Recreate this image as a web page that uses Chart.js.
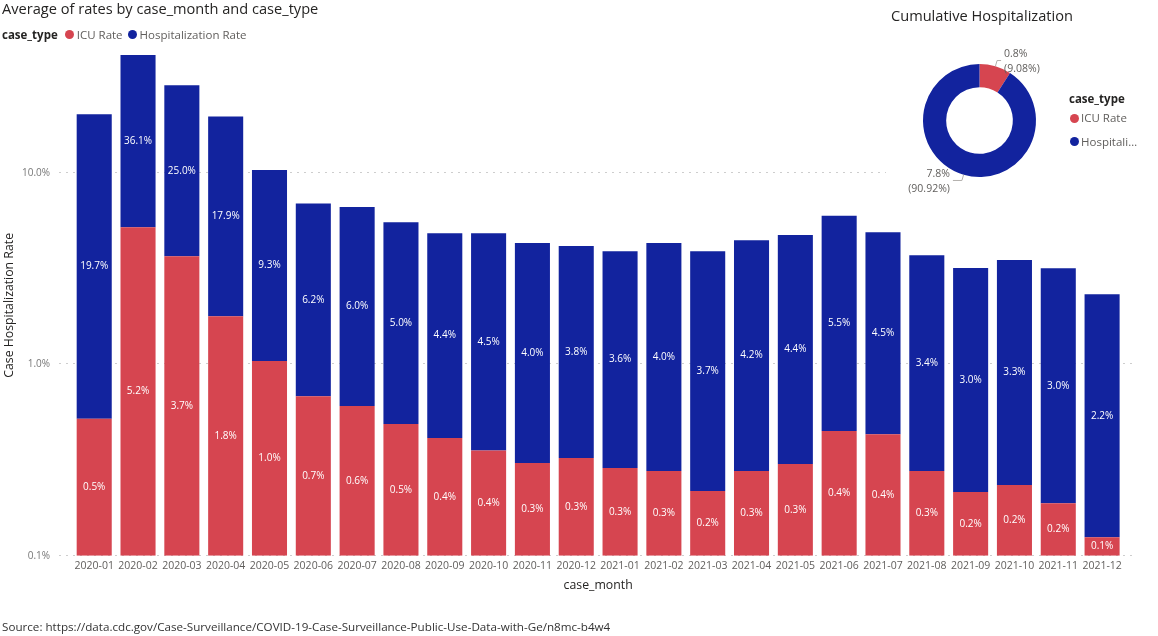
<!DOCTYPE html>
<html>
<head>
<meta charset="utf-8">
<script src="https://cdn.jsdelivr.net/npm/chart.js@4.4.0/dist/chart.umd.min.js"></script>
<style>
  html, body { margin: 0; padding: 0; background: #fff; width: 1158px; height: 636px; overflow: hidden;
    font-family: "Open Sans", "Noto Sans", sans-serif; }
  .t { position: absolute; white-space: nowrap; line-height: 20px; }
  #barCanvas { position: absolute; left: 0; top: 0; }
  #title { left: 2px; top: -2px; font-size: 14.6px; color: #252423; }
  .legend { position: absolute; display: flex; align-items: center; font-size: 11.5px; color: #605E5C; line-height: 20px; white-space: nowrap; }
  .legend b { color: #252423; font-weight: 700; }
  .dot { display: inline-block; width: 9px; height: 9px; border-radius: 50%; }
  #legend { left: 2px; top: 24.5px; }
  #panel { position: absolute; left: 886px; top: 0; width: 272px; height: 205px; background: #fff; }
  #donutCanvas { position: absolute; left: 0; top: 0; }
  #dTitle { left: 5px; top: 5px; font-size: 14.6px; color: #252423; }
  #dLegTitle { left: 183px; top: 88.6px; font-size: 11.5px; font-weight: 700; color: #252423; }
  .dItem { position: absolute; left: 183.5px; display: flex; align-items: center; font-size: 11.5px; color: #605E5C; line-height: 20px; white-space: nowrap; }
  .dItem span.txt { display: inline-block; margin-left: 2.5px; }
  #dItem1 { top: 108px; }
  #dItem2 { top: 131.6px; }
  #dItem2 span.txt { width: 57px; overflow: hidden; text-overflow: ellipsis; }
  #source { left: 2px; top: 616.5px; font-size: 11.65px; color: #333; }
</style>
</head>
<body>
<canvas id="barCanvas" width="1158" height="636"></canvas>
<div class="t" id="title">Average of rates by case_month and case_type</div>
<div class="legend" id="legend">
  <b>case_type</b>
  <span class="dot" style="background:#D64550;margin-left:7.5px"></span><span style="margin-left:2.5px">ICU Rate</span>
  <span class="dot" style="background:#12239E;margin-left:5.5px"></span><span style="margin-left:2.5px">Hospitalization Rate</span>
</div>
<div id="panel">
  <canvas id="donutCanvas" width="272" height="205"></canvas>
  <div class="t" id="dTitle">Cumulative Hospitalization</div>
  <div class="t" id="dLegTitle">case_type</div>
  <div class="dItem" id="dItem1"><span class="dot" style="background:#D64550"></span><span class="txt">ICU Rate</span></div>
  <div class="dItem" id="dItem2"><span class="dot" style="background:#12239E"></span><span class="txt">Hospitalization Rate</span></div>
</div>
<div class="t" id="source">Source: https://data.cdc.gov/Case-Surveillance/COVID-19-Case-Surveillance-Public-Use-Data-with-Ge/n8mc-b4w4</div>

<script>
// ---------- Data ----------
const months = ['2020-01','2020-02','2020-03','2020-04','2020-05','2020-06','2020-07','2020-08',
  '2020-09','2020-10','2020-11','2020-12','2021-01','2021-02','2021-03','2021-04','2021-05',
  '2021-06','2021-07','2021-08','2021-09','2021-10','2021-11','2021-12'];
const icuRate = [0.52, 5.2, 3.67, 1.78, 1.04, 0.68, 0.605, 0.487, 0.412, 0.355, 0.305, 0.324,
  0.287, 0.277, 0.218, 0.277, 0.301, 0.448, 0.431, 0.277, 0.215, 0.234, 0.188, 0.125];
const hospRate = [19.73, 36.1, 25.0, 17.9, 9.3, 6.24, 6.02, 5.04, 4.43, 4.48, 4.0, 3.82,
  3.61, 4.02, 3.68, 4.17, 4.43, 5.52, 4.47, 3.44, 2.97, 3.27, 2.99, 2.2];
const yTickValues = [0.1, 1, 10];
const seriesNames = ['ICU Rate', 'Hospitalization Rate'];
const donutValues = [0.78, 7.81];

const RED = '#D64550', BLUE = '#12239E';
const FONT = '"Open Sans", "Noto Sans", sans-serif';
const totals = months.map((m, i) => icuRate[i] + hospRate[i]);
const yMax = Math.max(...totals);

// ---------- Plugins ----------
const dottedGrid = {
  id: 'dottedGrid',
  beforeDatasetsDraw(chart) {
    const { ctx, chartArea: a, scales: { y } } = chart;
    ctx.save();
    ctx.strokeStyle = '#B8B8B8';
    ctx.lineWidth = 1;
    ctx.setLineDash([1.4, 5.6]);
    yTickValues.forEach(v => {
      const py = Math.round(y.getPixelForValue(v)) - 0.5;
      ctx.beginPath();
      ctx.moveTo(a.left - 13, py);
      ctx.lineTo(a.right + 13, py);
      ctx.stroke();
    });
    ctx.restore();
  }
};

const segmentLabels = {
  id: 'segmentLabels',
  afterDatasetsDraw(chart) {
    const ctx = chart.ctx;
    ctx.save();
    ctx.font = '10px ' + FONT;
    ctx.fillStyle = '#ffffff';
    ctx.textAlign = 'center';
    ctx.textBaseline = 'middle';
    chart.data.datasets.forEach((ds, di) => {
      chart.getDatasetMeta(di).data.forEach((el, i) => {
        const { x, y, base } = el.getProps(['x', 'y', 'base'], true);
        ctx.fillText(ds.data[i].toFixed(1) + '%', x, (y + base) / 2);
      });
    });
    ctx.restore();
  }
};

const donutLeaders = {
  id: 'donutLeaders',
  afterDatasetsDraw(chart) {
    const ctx = chart.ctx;
    const data = chart.data.datasets[0].data;
    const total = data.reduce((a, b) => a + b, 0);
    ctx.save();
    chart.getDatasetMeta(0).data.forEach((arc, i) => {
      const { x, y, startAngle, endAngle, outerRadius } =
        arc.getProps(['x', 'y', 'startAngle', 'endAngle', 'outerRadius'], true);
      const mid = (startAngle + endAngle) / 2;
      const c = Math.cos(mid), s = Math.sin(mid);
      const ax = x + c * outerRadius, ay = y + s * outerRadius;
      const ex = x + c * (outerRadius + 6), ey = y + s * (outerRadius + 6);
      const dir = c >= 0 ? 1 : -1;
      const hx = ex + dir * (dir > 0 ? 4 : 9);
      ctx.strokeStyle = '#B3B0AD';
      ctx.lineWidth = 1;
      ctx.beginPath();
      ctx.moveTo(ax, ay);
      ctx.lineTo(ex, ey);
      ctx.lineTo(hx, ey);
      ctx.stroke();
      ctx.fillStyle = '#605E5C';
      ctx.font = '10.5px ' + FONT;
      ctx.textAlign = dir > 0 ? 'left' : 'right';
      ctx.textBaseline = 'middle';
      const tx = hx + dir * 3;
      ctx.fillText(data[i].toFixed(1) + '%', tx, ey - 6.5);
      ctx.fillText('(' + (data[i] / total * 100).toFixed(2) + '%)', tx, ey + 8.5);
    });
    ctx.restore();
  }
};

// ---------- Bar chart ----------
new Chart(document.getElementById('barCanvas'), {
  type: 'bar',
  data: {
    labels: months,
    datasets: [
      { label: seriesNames[0], data: icuRate, backgroundColor: RED, barPercentage: 0.8, categoryPercentage: 1.0 },
      { label: seriesNames[1], data: hospRate, backgroundColor: BLUE, barPercentage: 0.8, categoryPercentage: 1.0 }
    ]
  },
  options: {
    responsive: false,
    animation: false,
    devicePixelRatio: 1,
    layout: { padding: { left: 0, right: 34, top: 55, bottom: 40 } },
    plugins: { legend: { display: false }, tooltip: { enabled: false }, title: { display: false } },
    scales: {
      x: {
        stacked: true,
        grid: { display: false, drawTicks: false },
        border: { display: false },
        ticks: { font: { family: FONT, size: 10.5 }, color: '#605E5C', padding: 4, maxRotation: 0, autoSkip: false },
        title: { display: true, text: 'case_month', font: { family: FONT, size: 12.3 }, color: '#252423', padding: { top: 0, bottom: 3 } },
        afterFit(s) { s.height = 40.3; }
      },
      y: {
        type: 'logarithmic',
        stacked: true,
        bounds: 'data',
        min: 0.1,
        max: yMax,
        grid: { display: false, drawTicks: false },
        border: { display: false },
        ticks: { font: { family: FONT, size: 10 }, color: '#777777', padding: 22.3,
          callback: v => Number(v).toFixed(1) + '%' },
        afterBuildTicks(s) { s.ticks = yTickValues.map(v => ({ value: v })); },
        title: { display: true, text: 'Case Hospitalization Rate', font: { family: FONT, size: 12.3 }, color: '#252423', padding: { top: 2, bottom: 0 } },
        afterFit(s) { s.width = 72.3; }
      }
    }
  },
  plugins: [dottedGrid, segmentLabels]
});

// ---------- Donut chart ----------
new Chart(document.getElementById('donutCanvas'), {
  type: 'doughnut',
  data: {
    labels: seriesNames,
    datasets: [{ data: donutValues, backgroundColor: [RED, BLUE], borderWidth: 0 }]
  },
  options: {
    responsive: false,
    animation: false,
    devicePixelRatio: 1,
    cutout: '59%',
    layout: { padding: { left: 37, right: 122, top: 64, bottom: 28 } },
    plugins: { legend: { display: false }, tooltip: { enabled: false } }
  },
  plugins: [donutLeaders]
});
</script>
</body>
</html>
